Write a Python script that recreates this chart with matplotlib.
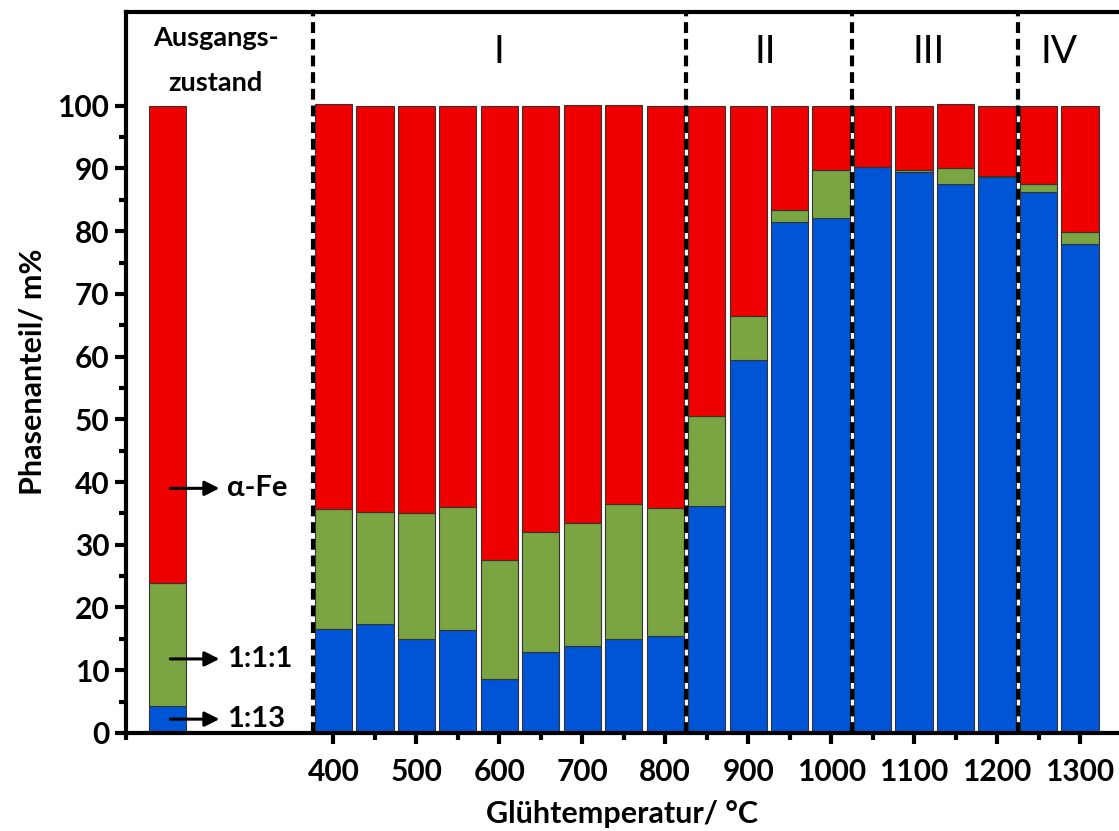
import numpy as np
import matplotlib.pyplot as plt

plt.rcParams['font.family'] = ['Lato', 'DejaVu Sans']

# data (m%)
temps = [400, 450, 500, 550, 600, 650, 700, 750, 800, 850, 900, 950,
         1000, 1050, 1100, 1150, 1200, 1250, 1300]
blue = [16.5, 17.3, 15.0, 16.4, 8.6, 12.9, 13.9, 15.0, 15.5, 36.2, 59.5, 81.4,
        82.1, 90.3, 89.5, 87.5, 88.7, 86.2, 77.9]
green_top = [35.7, 35.2, 35.0, 36.0, 27.6, 32.0, 33.4, 36.5, 35.9, 50.6, 66.4, 83.4,
             89.7, 90.3, 89.8, 90.0, 88.8, 87.5, 79.8]
total = [100.2, 100.0, 100.0, 100.0, 100.0, 100.0, 100.1, 100.1, 100.0, 100.0, 100.0, 100.0,
         100.0, 100.0, 100.0, 100.2, 100.0, 100.0, 100.0]

start_x = 200
start_blue, start_green_top, start_total = 4.3, 23.9, 100.0

region_bounds = [375, 825, 1025, 1225]
region_labels = ['I', 'II', 'III', 'IV']
region_label_x = [600, 920, 1118, 1275]

c_blue = '#0055D6'
c_green = '#7BA443'
c_red = '#EE0000'

fig = plt.figure(figsize=(11.19, 8.31), dpi=100)
ax = fig.add_axes([0.1126, 0.118, 0.8874, 0.868])

x = np.array([start_x] + temps)
b = np.array([start_blue] + blue)
g = np.array([start_green_top] + green_top) - b
r = np.array([start_total] + total) - b - g

w = 45
kw = dict(width=w, edgecolor='#333333', linewidth=0.8)
ax.bar(x, b, color=c_blue, **kw)
ax.bar(x, g, bottom=b, color=c_green, **kw)
ax.bar(x, r, bottom=b + g, color=c_red, **kw)

for xb in region_bounds:
    ax.axvline(xb, color='black', lw=3, ls=(0, (2.6, 1.4)), zorder=5)

for xl, lab in zip(region_label_x, region_labels):
    ax.text(xl, 108.6, lab, ha='center', va='center', fontsize=28, fontweight='normal')

ax.text(258, 110.8, 'Ausgangs-', ha='center', va='center', fontsize=19.5, fontweight='bold')
ax.text(258, 103.6, 'zustand', ha='center', va='center', fontsize=19.5, fontweight='bold')

# arrows on the starting bar
for yv, lab in [(39, 'α-Fe'), (11.8, '1:1:1'), (2.2, '1:13')]:
    ax.annotate('', xy=(266, yv), xytext=(200, yv),
                arrowprops=dict(arrowstyle='-|>', color='black', lw=2.2, mutation_scale=22))
    ax.text(272, yv, lab, ha='left', va='center', fontsize=21, fontweight='bold')

ax.set_xlim(150, 1347)
ax.set_ylim(0, 115)
ax.set_xticks(range(400, 1301, 100))
ax.set_xticks([150] + list(range(450, 1300, 100)), minor=True)
ax.set_yticks(range(0, 101, 10))
ax.set_yticks(range(5, 100, 10), minor=True)
ax.tick_params(axis='both', which='major', direction='out', length=8, width=3,
               labelsize=21.5, pad=4)
ax.tick_params(axis='x', which='major', pad=10)
ax.tick_params(axis='both', which='minor', direction='out', length=5, width=3)
for lab in ax.get_xticklabels() + ax.get_yticklabels():
    lab.set_fontweight('bold')

ax.spines['right'].set_visible(False)
for s in ['left', 'bottom', 'top']:
    ax.spines[s].set_linewidth(3)

ax.set_xlabel('Glühtemperatur/ °C', fontsize=22, fontweight='bold', labelpad=10)
ax.set_ylabel('Phasenanteil/ m%', fontsize=22, fontweight='bold', labelpad=8)

fig.savefig('out.png', dpi=100)
